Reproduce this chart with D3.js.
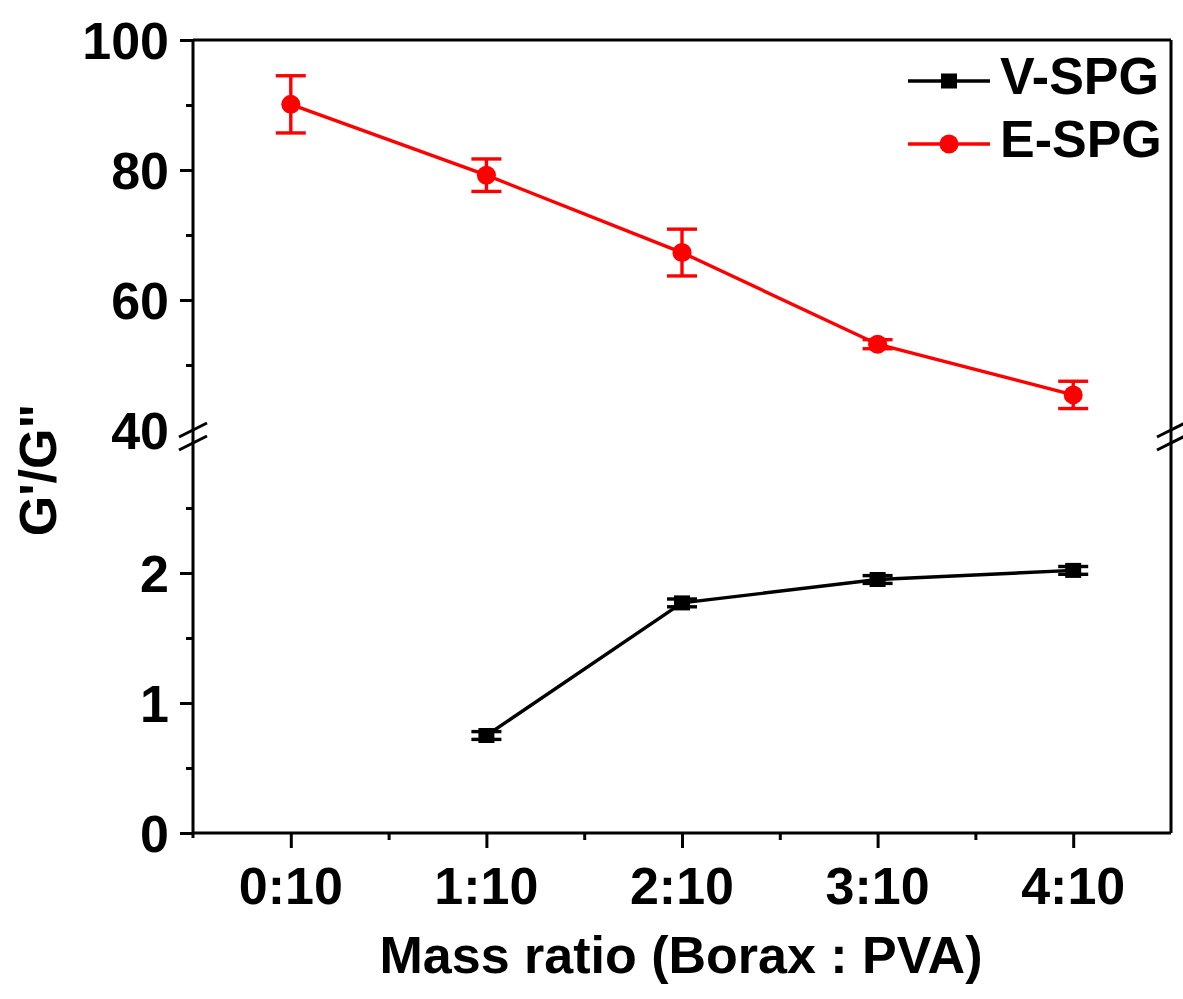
<!DOCTYPE html>
<html>
<head>
<meta charset="utf-8">
<script src="https://cdn.jsdelivr.net/npm/d3@7"></script>
<style>
  html, body { margin: 0; padding: 0; background: #fff; }
  svg { display: block; }
  text { font-family: "Liberation Sans", Arial, sans-serif; font-weight: bold; fill: #000; }
</style>
</head>
<body>
<svg id="chart" width="1183" height="999"></svg>
<script>
// Mass ratio categories (Borax : PVA)
const categories = ["0:10", "1:10", "2:10", "3:10", "4:10"];

// E-SPG storage/loss modulus ratio with error
const espgValues = [90.1, 79.2, 67.3, 53.2, 45.4];
const espgErrors = [4.4, 2.5, 3.6, 0.7, 2.1];

// V-SPG ratio with error (no sample at 0:10)
const vspgValues = [null, 0.75, 1.77, 1.95, 2.02];
const vspgErrors = [null, 0.03, 0.03, 0.03, 0.03];

// Axis ticks for the two segments of the broken y axis
const upperTicks = [40, 60, 80, 100];
const upperMinor = [50, 70, 90];
const lowerTicks = [0, 1, 2];
const lowerMinor = [0.5, 1.5, 2.5];

const svg = d3.select("#chart");
const plotLeft = 193, plotRight = 1171, plotTop = 40, plotBottom = 833;
const breakTop = 430, breakBottom = 443;

const x = d3.scaleLinear().domain([-0.5, categories.length - 0.5]).range([plotLeft, plotRight]);
const yUp = d3.scaleLinear().domain([40, 100]).range([breakTop, plotTop]);
const yLo = d3.scaleLinear().domain([0, 3]).range([plotBottom, breakBottom]);

const axisColor = "#000";
const sw = 3;

// Frame: left, right, top and bottom lines
const frame = svg.append("g").attr("stroke", axisColor).attr("stroke-width", sw).attr("fill", "none");
frame.append("line").attr("x1", plotLeft).attr("x2", plotLeft).attr("y1", plotTop).attr("y2", plotBottom + 5);
frame.append("line").attr("x1", plotRight).attr("x2", plotRight).attr("y1", plotTop).attr("y2", plotBottom);
frame.append("line").attr("x1", plotLeft).attr("x2", plotRight).attr("y1", plotTop).attr("y2", plotTop);
frame.append("line").attr("x1", plotLeft - 1).attr("x2", plotRight).attr("y1", plotBottom).attr("y2", plotBottom);

// Break marks on both vertical axes
[plotLeft, plotRight].forEach(cx => {
  [breakTop, breakBottom].forEach(cy => {
    frame.append("line")
      .attr("x1", cx - 14).attr("y1", cy + 7)
      .attr("x2", cx + 14).attr("y2", cy - 7);
  });
});

// Y axis ticks for both segments
const upperAxis = d3.axisLeft(yUp).tickValues(upperTicks.filter(v => v !== 40)).tickSize(13).tickFormat("");
const lowerAxis = d3.axisLeft(yLo).tickValues(lowerTicks).tickSize(13).tickFormat("");
const upperMinorAxis = d3.axisLeft(yUp).tickValues(upperMinor).tickSize(7).tickFormat("");
const lowerMinorAxis = d3.axisLeft(yLo).tickValues(lowerMinor).tickSize(7).tickFormat("");

[upperAxis, lowerAxis, upperMinorAxis, lowerMinorAxis].forEach(ax => {
  const g = svg.append("g").attr("transform", `translate(${plotLeft},0)`).call(ax);
  g.select(".domain").remove();
  g.selectAll("line").attr("stroke", axisColor).attr("stroke-width", sw);
});

// X axis ticks
const xMajor = d3.axisBottom(x).tickValues(d3.range(categories.length)).tickSize(15).tickFormat("");
const xMinor = d3.axisBottom(x).tickValues(d3.range(categories.length - 1).map(i => i + 0.5)).tickSize(7).tickFormat("");
[xMajor, xMinor].forEach(ax => {
  const g = svg.append("g").attr("transform", `translate(0,${plotBottom})`).call(ax);
  g.select(".domain").remove();
  g.selectAll("line").attr("stroke", axisColor).attr("stroke-width", sw);
});

// Text labels
const fs = 52;
function label(xp, yp, txt, anchor, size) {
  svg.append("text")
    .attr("x", xp).attr("y", yp)
    .attr("text-anchor", anchor)
    .attr("font-size", size || fs)
    .text(txt);
}
upperTicks.forEach(v => label(plotLeft - 24, yUp(v) + fs * 0.36, v, "end"));
lowerTicks.forEach(v => label(plotLeft - 24, yLo(v) + fs * 0.36, v, "end"));
categories.forEach((c, i) => label(x(i), 904, c, "middle"));

// Axis titles
label(681, 973, "Mass ratio (Borax : PVA)", "middle");
svg.append("text")
  .attr("transform", "translate(56,470) rotate(-90)")
  .attr("text-anchor", "middle")
  .attr("font-size", fs)
  .text("G'/G\"");

// Series drawing
const red = "#ff0000";
const black = "#000000";
const capW = 15;

function drawSeries(values, errors, yScale, color, marker) {
  const pts = values.map((v, i) => ({ i, v, e: errors[i] })).filter(d => d.v !== null);
  const line = d3.line().x(d => x(d.i)).y(d => yScale(d.v));
  svg.append("path").datum(pts)
    .attr("d", line).attr("fill", "none")
    .attr("stroke", color).attr("stroke-width", 3.4);
  const eg = svg.append("g").attr("stroke", color).attr("stroke-width", 3.4);
  pts.forEach(d => {
    const y1 = yScale(d.v + d.e), y2 = yScale(d.v - d.e);
    eg.append("line").attr("x1", x(d.i)).attr("x2", x(d.i)).attr("y1", y1).attr("y2", y2);
    eg.append("line").attr("x1", x(d.i) - capW).attr("x2", x(d.i) + capW).attr("y1", y1).attr("y2", y1);
    eg.append("line").attr("x1", x(d.i) - capW).attr("x2", x(d.i) + capW).attr("y1", y2).attr("y2", y2);
  });
  pts.forEach(d => marker(svg, x(d.i), yScale(d.v)));
}

const circleMarker = (g, cx, cy) => g.append("circle").attr("cx", cx).attr("cy", cy).attr("r", 9.5).attr("fill", red);
const squareMarker = (g, cx, cy) => g.append("rect").attr("x", cx - 8).attr("y", cy - 7.5).attr("width", 16).attr("height", 15).attr("fill", black);

drawSeries(espgValues, espgErrors, yUp, red, circleMarker);
drawSeries(vspgValues, vspgErrors, yLo, black, squareMarker);

// Legend
const legend = [
  { name: "V-SPG", color: black, marker: squareMarker, y: 81 },
  { name: "E-SPG", color: red, marker: circleMarker, y: 144 }
];
legend.forEach(d => {
  svg.append("line").attr("x1", 908).attr("x2", 990).attr("y1", d.y).attr("y2", d.y)
    .attr("stroke", d.color).attr("stroke-width", 3.4);
  d.marker(svg, 949, d.y);
  label(1000, d.y + 13, d.name, "start", 52);
});
</script>
</body>
</html>
